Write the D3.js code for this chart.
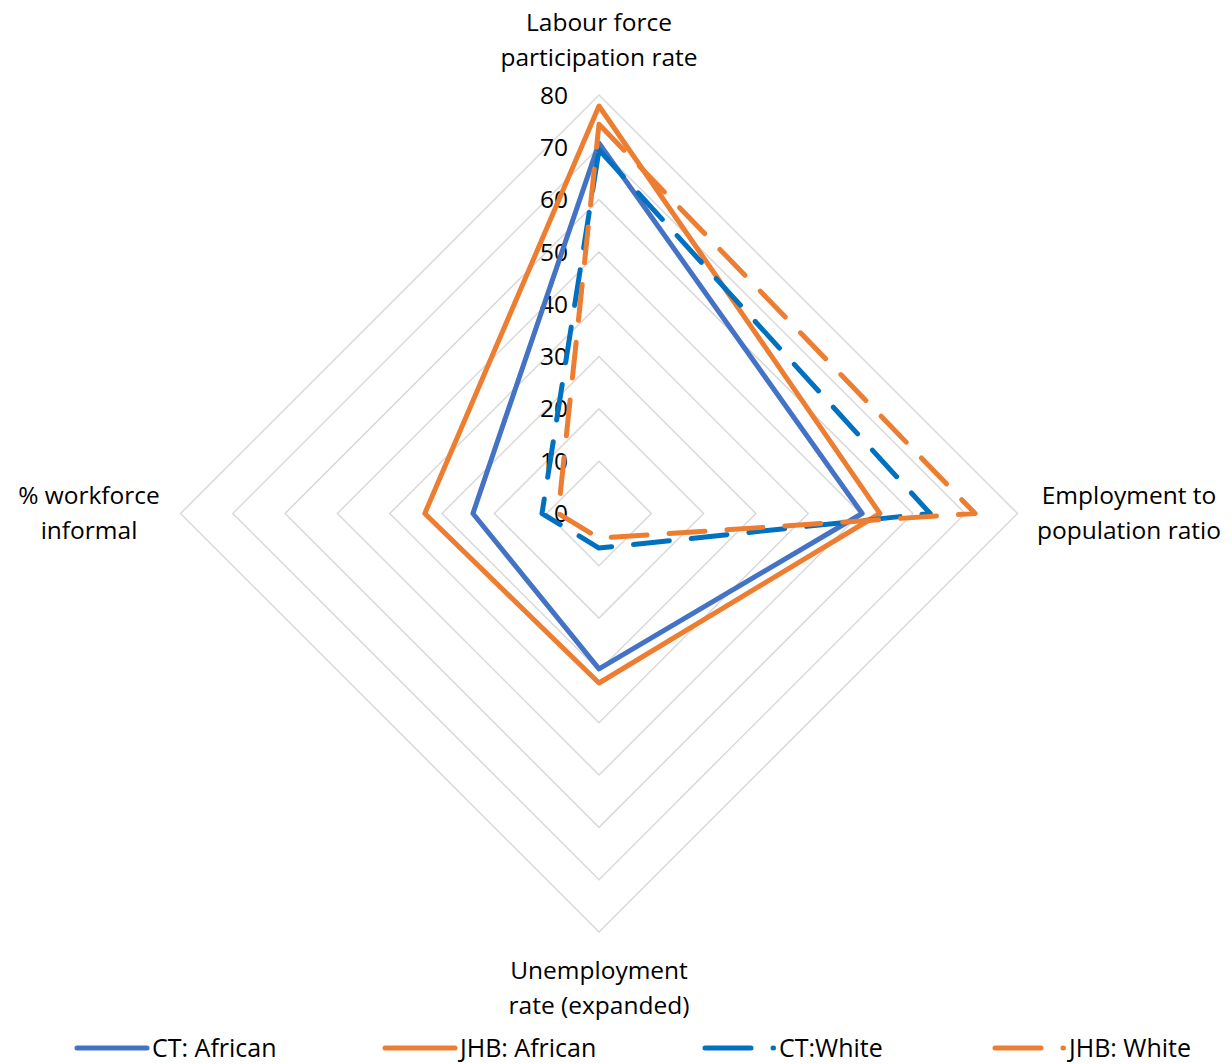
<!DOCTYPE html>
<html>
<head>
<meta charset="utf-8">
<script src="https://cdn.jsdelivr.net/npm/d3@7"></script>
<style>
  body { margin: 0; background: #fff; }
  svg text { font-family: "Open Sans", sans-serif; fill: #000; }
</style>
</head>
<body>
<svg width="1232" height="1064"></svg>
<script>
var categories = [["Labour force", "participation rate"], ["Employment to", "population ratio"],
                  ["Unemployment", "rate (expanded)"], ["% workforce", "informal"]];
var seriesNames = ["CT: African", "JHB: African", "CT:White", "JHB: White"];
var ctAfrican = [70.8, 50.3, 29.7, 24.1];
var jhbAfrican = [77.9, 53.7, 32.4, 33.3];
var ctWhite = [69.5, 63.3, 6.6, 10.9];
var jhbWhite = [74.4, 71.9, 4.7, 7.8];
var ticks = [0, 10, 20, 30, 40, 50, 60, 70, 80];

var series = [
  {name: seriesNames[0], values: ctAfrican, color: "#4472C4", dash: null},
  {name: seriesNames[1], values: jhbAfrican, color: "#ED7D31", dash: null},
  {name: seriesNames[2], values: ctWhite, color: "#0070C0", dash: "36,22"},
  {name: seriesNames[3], values: jhbWhite, color: "#ED7D31", dash: "36,22"}
];

var svg = d3.select("svg"),
    cx = 599, cy = 513.5;

var r = d3.scaleLinear().domain([0, 80]).range([0, 418.5]);
var angle = d3.scaleLinear().domain([0, categories.length]).range([0, 2 * Math.PI]);

function pt(i, v) {
  var a = angle(i);
  return [r(v) * Math.sin(a), -r(v) * Math.cos(a)];
}

var g = svg.append("g")
    .attr("transform", "translate(" + cx + "," + cy + ")");

// grid rings
g.selectAll(".ring")
  .data(ticks.slice(1))
  .enter().append("path")
    .attr("class", "ring")
    .attr("fill", "none")
    .attr("stroke", "#D9D9D9")
    .attr("stroke-width", 1.5)
    .attr("d", function(t) {
      return d3.line()(categories.map(function(c, i) { return pt(i, t); })) + "Z";
    });

// tick labels
g.selectAll(".tick")
  .data(ticks)
  .enter().append("text")
    .attr("class", "tick")
    .attr("x", -31)
    .attr("y", function(t) { return -r(t); })
    .attr("dy", "0.35em")
    .attr("text-anchor", "end")
    .attr("font-size", 24.5)
    .text(function(t) { return t; });

// category labels
var labelPos = [[0, -491], [530, -18], [0, 457], [-510, -18]];
categories.forEach(function(c, i) {
  var t = g.append("text")
      .attr("text-anchor", "middle")
      .attr("font-size", 24.5);
  c.forEach(function(line, j) {
    t.append("tspan")
      .attr("x", labelPos[i][0])
      .attr("y", labelPos[i][1] + j * 35)
      .attr("dy", "0.35em")
      .text(line);
  });
});

// series
g.selectAll(".series")
  .data(series)
  .enter().append("path")
    .attr("class", "series")
    .attr("fill", "none")
    .attr("stroke", function(d) { return d.color; })
    .attr("stroke-width", 5)
    .attr("stroke-linejoin", "round")
    .attr("stroke-linecap", "round")
    .attr("stroke-dasharray", function(d) { return d.dash; })
    .attr("d", function(d) {
      return d3.line()(d.values.map(function(v, i) { return pt(i, v); })) + "Z";
    });

// legend
var legendX = [77, 385, 705, 995];
var legend = svg.selectAll(".legend")
  .data(series)
  .enter().append("g")
    .attr("class", "legend")
    .attr("transform", function(d, i) { return "translate(" + legendX[i] + ",1048)"; });

legend.append("line")
    .attr("x1", 0)
    .attr("x2", 70)
    .attr("stroke", function(d) { return d.color; })
    .attr("stroke-width", 5)
    .attr("stroke-linecap", "round")
    .attr("stroke-dasharray", function(d) { return d.dash ? "46,22,0.5,100" : null; });

legend.append("text")
    .attr("x", function(d) { return d.dash ? 74 : 75; })
    .attr("dy", "0.35em")
    .attr("font-size", 25)
    .text(function(d) { return d.name; });
</script>
</body>
</html>
